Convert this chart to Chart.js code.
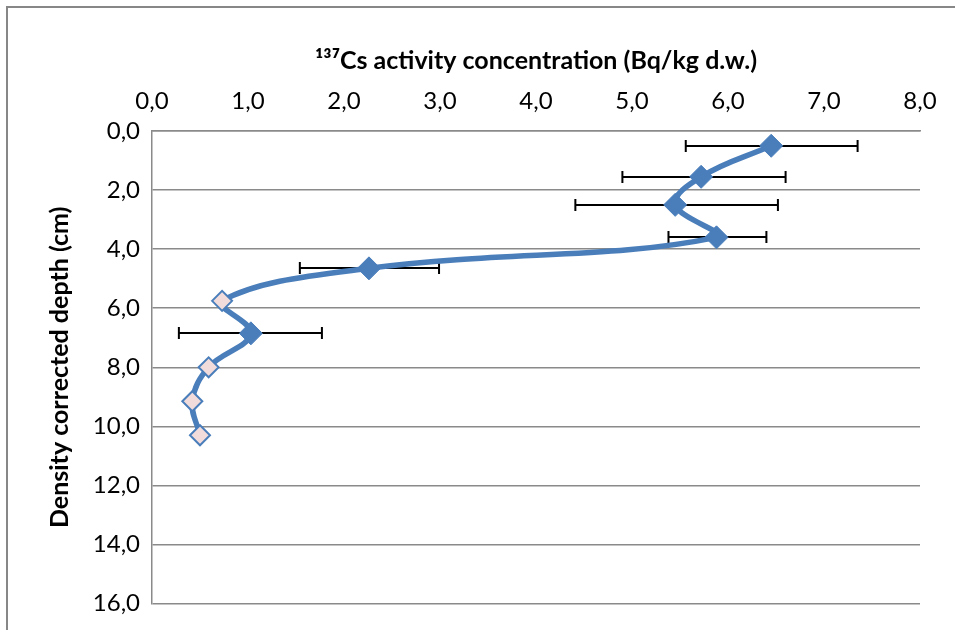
<!DOCTYPE html>
<html>
<head>
<meta charset="utf-8">
<script src="https://cdn.jsdelivr.net/npm/chart.js@4/dist/chart.umd.min.js"></script>
<style>
  html, body { margin: 0; padding: 0; background: #fff; }
  #wrap { width: 955px; height: 630px; }
</style>
</head>
<body>
<div id="wrap"><canvas id="chart" width="955" height="630"></canvas></div>
<script>
// 137Cs profile
const depth = [0.5, 1.55, 2.5, 3.6, 4.65, 5.75, 6.85, 8.0, 9.15, 10.3];
const activity = [6.45, 5.72, 5.45, 5.88, 2.26, 0.73, 1.03, 0.59, 0.42, 0.50];
const errLow = [5.56, 4.90, 4.41, 5.38, 1.54, null, 0.28, null, null, null];
const errHigh = [7.35, 6.60, 6.52, 6.40, 2.99, null, 1.77, null, null, null];
// points below detection limit (open markers, no error bar)
const belowLimit = [false, false, false, false, false, true, false, true, true, true];

const xTickValues = [0, 1, 2, 3, 4, 5, 6, 7, 8];
const xTickLabels = ['0,0', '1,0', '2,0', '3,0', '4,0', '5,0', '6,0', '7,0', '8,0'];
const yTickValues = [0, 2, 4, 6, 8, 10, 12, 14, 16];
const yTickLabels = ['0,0', '2,0', '4,0', '6,0', '8,0', '10,0', '12,0', '14,0', '16,0'];

const blue = '#4a7ebb';
const openFill = '#f2dcdb';
const gridGray = '#8a8a8a';
const fontFamily = 'Lato, Carlito, "Open Sans", sans-serif';

const points = depth.map((d, i) => ({ x: activity[i], y: d }));

// horizontal error bars, drawn behind the line
const errorBars = {
    id: 'errorBars',
    beforeDatasetsDraw(chart) {
        const ctx = chart.ctx;
        const xs = chart.scales.x;
        const ys = chart.scales.y;
        ctx.save();
        ctx.strokeStyle = '#000';
        ctx.lineWidth = 2;
        depth.forEach((d, i) => {
            if (errLow[i] == null) return;
            const y = Math.round(ys.getPixelForValue(d));
            const x1 = xs.getPixelForValue(errLow[i]);
            const x2 = xs.getPixelForValue(errHigh[i]);
            ctx.beginPath();
            ctx.moveTo(x1, y);
            ctx.lineTo(x2, y);
            ctx.moveTo(x1, y - 6);
            ctx.lineTo(x1, y + 6);
            ctx.moveTo(x2, y - 6);
            ctx.lineTo(x2, y + 6);
            ctx.stroke();
        });
        ctx.restore();
    }
};

// outer chart frame (only top and left visible in the crop)
const frame = {
    id: 'frame',
    beforeDraw(chart) {
        const ctx = chart.ctx;
        ctx.save();
        ctx.fillStyle = '#fff';
        ctx.fillRect(0, 0, chart.width, chart.height);
        ctx.fillStyle = '#878787';
        ctx.fillRect(6, 6, chart.width, 2);
        ctx.fillRect(6, 6, 2, chart.height);
        ctx.restore();
    }
};

new Chart(document.getElementById('chart'), {
    type: 'scatter',
    data: {
        datasets: [{
            data: points,
            showLine: true,
            borderColor: blue,
            borderWidth: 5.5,
            tension: 0.4,
            pointStyle: 'rectRot',
            pointRadius: belowLimit.map(b => b ? 10 : 11.5),
            pointHoverRadius: belowLimit.map(b => b ? 10 : 11.5),
            pointBackgroundColor: belowLimit.map(b => b ? openFill : blue),
            pointBorderColor: blue,
            pointBorderWidth: belowLimit.map(b => b ? 2 : 1)
        }]
    },
    options: {
        responsive: false,
        animation: false,
        layout: { padding: { left: 0, top: 0, right: 35, bottom: 25 } },
        plugins: {
            legend: { display: false },
            tooltip: { enabled: false }
        },
        scales: {
            x: {
                type: 'linear',
                position: 'top',
                min: 0,
                max: 8,
                ticks: {
                    stepSize: 1,
                    padding: 15,
                    color: '#000',
                    font: { family: fontFamily, size: 24 },
                    callback: v => xTickLabels[xTickValues.indexOf(v)]
                },
                grid: { display: false, drawTicks: false },
                border: { display: true, color: gridGray, width: 1.5 },
                title: {
                    display: true,
                    text: '¹³⁷Cs activity concentration (Bq/kg d.w.)',
                    color: '#000',
                    font: { family: fontFamily, size: 25, weight: 'bold' },
                    padding: { top: 46, bottom: 0 }
                },
                afterFit: scale => { scale.height = 131; }
            },
            y: {
                type: 'linear',
                reverse: true,
                min: 0,
                max: 16,
                ticks: {
                    stepSize: 2,
                    padding: 12,
                    color: '#000',
                    font: { family: fontFamily, size: 24 },
                    callback: v => yTickLabels[yTickValues.indexOf(v)]
                },
                grid: { color: gridGray, lineWidth: 1.5, drawTicks: false },
                border: { display: true, color: gridGray, width: 1.5 },
                title: {
                    display: true,
                    text: 'Density corrected depth (cm)',
                    color: '#000',
                    font: { family: fontFamily, size: 25, weight: 'bold' },
                    padding: { top: 45, bottom: 0 }
                },
                afterFit: scale => { scale.width = 152; }
            }
        }
    },
    plugins: [frame, errorBars]
});
</script>
</body>
</html>
